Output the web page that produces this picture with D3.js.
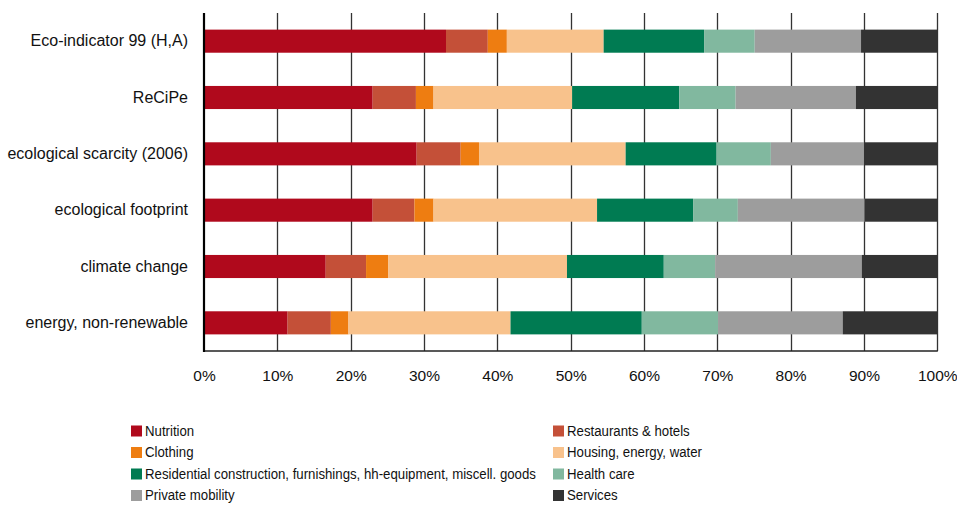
<!DOCTYPE html>
<html>
<head>
<meta charset="utf-8">
<script src="https://cdn.jsdelivr.net/npm/d3@7"></script>
<style>
  html, body { margin: 0; padding: 0; background: #fff; }
  svg { display: block; font-family: "Liberation Sans", Arial, sans-serif; }
</style>
</head>
<body>
<svg id="chart" width="957" height="505"></svg>
<script>
const categories = [
  "Eco-indicator 99 (H,A)",
  "ReCiPe",
  "ecological scarcity (2006)",
  "ecological footprint",
  "climate change",
  "energy, non-renewable"
];
const seriesNames = [
  "Nutrition",
  "Restaurants & hotels",
  "Clothing",
  "Housing, energy, water",
  "Residential construction, furnishings, hh-equipment, miscell. goods",
  "Health care",
  "Private mobility",
  "Services"
];
const seriesColors = ["#B0091C", "#C45038", "#EE7D11", "#F8C28C", "#007B52", "#81B89F", "#9D9D9D", "#333333"];
// shares (%) per category, in series order
const nutrition   = [33.0, 23.0, 29.0, 23.0, 16.6, 11.4];
const restaurants = [ 5.7,  5.9,  6.0,  5.7,  5.5,  5.9];
const clothing    = [ 2.6,  2.4,  2.5,  2.6,  3.0,  2.4];
const housing     = [13.2, 18.9, 20.0, 22.3, 24.4, 22.1];
const residential = [13.7, 14.6, 12.4, 13.1, 13.2, 17.9];
const health      = [ 6.9,  7.7,  7.4,  6.1,  7.0, 10.4];
const mobility    = [14.5, 16.4, 12.7, 17.3, 20.0, 17.0];
const services    = [10.4, 11.1, 10.0,  9.9, 10.3, 12.9];
const tickValues = [0, 10, 20, 30, 40, 50, 60, 70, 80, 90, 100];

const seriesValues = [nutrition, restaurants, clothing, housing, residential, health, mobility, services];
const table = categories.map((c, i) => {
  const row = { category: c };
  seriesNames.forEach((s, j) => { row[s] = seriesValues[j][i]; });
  return row;
});

const svg = d3.select("#chart");
const margin = { left: 204, right: 20, top: 13, bottom: 154 };
const x = d3.scaleLinear().domain([0, 100]).range([margin.left, 937.3]);
const y = d3.scaleBand().domain(categories).range([margin.top, 351]).paddingInner(0.59).paddingOuter(0.295);

// gridlines
svg.append("g").selectAll("line").data(tickValues.slice(1)).join("line")
  .attr("x1", d => Math.round(x(d)) + 0.5).attr("x2", d => Math.round(x(d)) + 0.5)
  .attr("y1", margin.top).attr("y2", 351)
  .attr("stroke", "#333").attr("stroke-width", 1.3);

// stacked bars
const stack = d3.stack().keys(seriesNames)(table);
svg.append("g").selectAll("g").data(stack).join("g")
  .attr("fill", (d, i) => seriesColors[i])
  .selectAll("rect").data(d => d).join("rect")
  .attr("x", d => x(d[0]))
  .attr("width", d => x(d[1]) - x(d[0]))
  .attr("y", d => y(d.data.category))
  .attr("height", y.bandwidth());

// bottom axis line
svg.append("line").attr("x1", margin.left).attr("x2", x(100) + 0.5)
  .attr("y1", 351).attr("y2", 351).attr("stroke", "#222").attr("stroke-width", 1.5);
// left axis line
svg.append("line").attr("x1", margin.left).attr("x2", margin.left)
  .attr("y1", margin.top).attr("y2", 352).attr("stroke", "#000").attr("stroke-width", 2.2);

// x tick labels
const xAxis = d3.axisBottom(x).tickValues(tickValues).tickFormat(d => d + "%").tickSize(0).tickPadding(0);
const gx = svg.append("g").attr("transform", "translate(0,370)").call(xAxis);
gx.select(".domain").remove();
gx.selectAll("text").attr("font-size", "15.5px").attr("fill", "#111")
  .attr("font-family", "'Liberation Sans', Arial, sans-serif");

// category labels
const yAxis = d3.axisLeft(y).tickSize(0).tickPadding(16);
const gy = svg.append("g").attr("transform", `translate(${margin.left},0)`).call(yAxis);
gy.select(".domain").remove();
gy.selectAll("text").attr("font-size", "16px").attr("fill", "#111")
  .attr("font-family", "'Liberation Sans', Arial, sans-serif");

// legend
const legend = svg.append("g");
const colX = [131, 553];
const rowY = [431, 452.5, 474, 495.5];
seriesNames.forEach((s, i) => {
  const cx = colX[i % 2], cy = rowY[Math.floor(i / 2)];
  legend.append("rect").attr("x", cx).attr("y", cy - 5.5).attr("width", 11).attr("height", 11)
    .attr("fill", seriesColors[i]);
  legend.append("text")
    .attr("transform", `translate(${cx + 14},${cy}) scale(0.945,1)`)
    .attr("dy", "0.35em")
    .attr("font-size", "14px").attr("fill", "#111").text(s);
});
</script>
</body>
</html>
